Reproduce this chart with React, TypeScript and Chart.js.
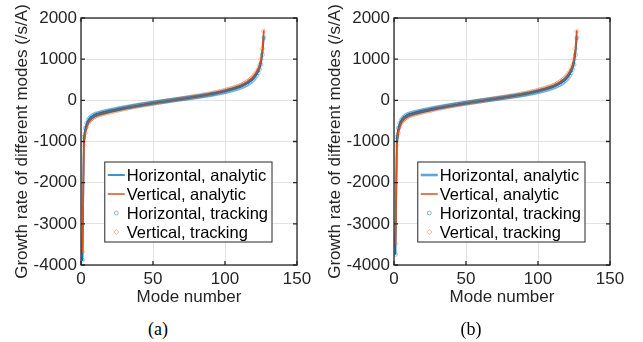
import React, { useEffect, useRef } from "react";
import { Chart, registerables } from "chart.js";

Chart.register(...registerables);

// ---- data ----
const xTicks = [0, 50, 100, 150];
const yTicks = [-4000, -3000, -2000, -1000, 0, 1000, 2000];
const seriesLabels = [
  "Horizontal, analytic",
  "Vertical, analytic",
  "Horizontal, tracking",
  "Vertical, tracking",
];
const xTitle = "Mode number";
const yTitle = "Growth rate of different modes (/s/A)";
const captions = ["(a)", "(b)"];

// growth rate per mode number 1..127
const horizontalAnalytic = [
  -3900, -900, -680, -560, -485, -440, -405, -378, -356, -340,
  -330, -320, -310, -300, -291, -283, -275, -267, -259, -251,
  -244, -237, -230, -223, -216, -209, -202, -195, -188, -181,
  -175, -169, -163, -157, -151, -145, -139, -133, -127, -121,
  -114, -109, -103, -98, -92, -87, -82, -76, -71, -66,
  -61, -56, -50, -45, -40, -35, -30, -25, -20, -15,
  -10, -5, 0, 5, 10, 15, 20, 25, 30, 35,
  40, 45, 50, 55, 60, 65, 71, 76, 82, 87,
  93, 98, 104, 109, 115, 121, 127, 133, 139, 145,
  152, 159, 166, 173, 180, 188, 196, 204, 212, 220,
  229, 238, 247, 256, 265, 275, 286, 297, 308, 320,
  334, 349, 365, 383, 401, 420, 443, 470, 500, 538,
  580, 630, 690, 780, 900, 1150, 1550,
];
const verticalAnalytic = [
  -3700, -1100, -800, -650, -560, -505, -465, -435, -410, -390,
  -375, -362, -350, -339, -329, -320, -311, -302, -293, -285,
  -277, -269, -261, -253, -245, -237, -229, -221, -213, -205,
  -197, -190, -183, -175, -168, -161, -154, -148, -141, -135,
  -129, -123, -116, -110, -104, -98, -92, -87, -81, -75,
  -69, -63, -58, -52, -46, -40, -35, -29, -24, -18,
  -12, -7, -1, 4, 10, 16, 21, 27, 32, 38,
  44, 49, 55, 60, 66, 72, 78, 84, 90, 96,
  102, 108, 114, 121, 127, 133, 140, 146, 153, 160,
  167, 174, 182, 189, 197, 205, 214, 222, 231, 240,
  250, 260, 270, 280, 290, 301, 313, 325, 337, 350,
  365, 381, 400, 420, 442, 465, 492, 520, 550, 592,
  640, 695, 760, 860, 1000, 1250, 1700,
];
const horizontalTracking = [
  -3880, -890, -672, -553, -479, -434, -400, -373, -352, -336,
  -326, -316, -306, -296, -287, -279, -271, -263, -255, -247,
  -240, -233, -226, -219, -212, -205, -198, -191, -184, -177,
  -171, -165, -159, -153, -147, -141, -135, -129, -123, -117,
  -111, -106, -100, -95, -89, -84, -79, -73, -68, -63,
  -58, -53, -47, -42, -37, -32, -27, -22, -17, -12,
  -7, -2, 3, 7, 12, 17, 22, 27, 31, 36,
  41, 46, 50, 55, 60, 64, 69, 74, 79, 84,
  89, 94, 99, 104, 109, 114, 120, 126, 131, 137,
  143, 150, 156, 163, 170, 177, 185, 192, 200, 208,
  216, 225, 234, 243, 252, 262, 272, 283, 294, 306,
  319, 333, 348, 365, 383, 402, 424, 450, 480, 516,
  556, 605, 665, 750, 870, 1110, 1520,
];
const verticalTracking = [
  -3680, -1090, -795, -646, -556, -502, -462, -432, -407, -387,
  -372, -359, -347, -336, -326, -317, -308, -299, -290, -282,
  -274, -266, -258, -250, -242, -234, -226, -218, -210, -202,
  -195, -188, -181, -173, -166, -159, -152, -146, -139, -133,
  -127, -121, -114, -108, -102, -96, -90, -85, -79, -73,
  -67, -61, -56, -50, -44, -38, -33, -27, -22, -16,
  -10, -5, 1, 6, 12, 18, 23, 29, 34, 40,
  46, 51, 57, 62, 68, 74, 80, 86, 92, 98,
  104, 110, 116, 123, 129, 135, 142, 148, 155, 162,
  169, 176, 184, 191, 199, 207, 216, 224, 233, 242,
  252, 262, 272, 282, 292, 303, 315, 327, 339, 352,
  367, 383, 402, 422, 444, 467, 494, 522, 552, 594,
  642, 697, 762, 862, 1003, 1255, 1680,
];

// panel (b): same modes, slightly different low end
const horizontalAnalyticB = [-3750, ...horizontalAnalytic.slice(1)];
const verticalAnalyticB = [-3500, ...verticalAnalytic.slice(1)];
const horizontalTrackingB = [-3740, ...horizontalTracking.slice(1)];
const verticalTrackingB = [-3480, ...verticalTracking.slice(1)];

const BLUE = "#0072BD";
const RED = "#D95319";
const BLUE_M = "rgba(0,114,189,0.45)";
const RED_M = "rgba(217,83,25,0.45)";
const AXIS = "#262626";
const FONT = "'Liberation Sans', Arial, Helvetica, sans-serif";

const toXY = (arr: number[]) => arr.map((y, i) => ({ x: i + 1, y }));

type PanelProps = {
  left: number;
  series: number[][];
  caption: string;
  captionX: number;
  legendBlue: string;
  legendBlueWidth: number;
};

function Panel({ left, series, caption, captionX, legendBlue, legendBlueWidth }: PanelProps) {
  const ref = useRef<HTMLCanvasElement | null>(null);

  useEffect(() => {
    if (!ref.current) return;
    const frameAndLegend = {
      id: "frameAndLegend",
      afterDraw(chart: any) {
        const { ctx, chartArea: a, scales } = chart;
        const xs = scales.x;
        const ys = scales.y;
        ctx.save();
        ctx.strokeStyle = AXIS;
        ctx.lineWidth = 1.3;
        ctx.strokeRect(a.left, a.top, a.right - a.left, a.bottom - a.top);
        ctx.beginPath();
        const tl = 4;
        xTicks.forEach((v) => {
          const px = xs.getPixelForValue(v);
          ctx.moveTo(px, a.bottom);
          ctx.lineTo(px, a.bottom - tl);
          ctx.moveTo(px, a.top);
          ctx.lineTo(px, a.top + tl);
        });
        yTicks.forEach((v) => {
          const py = ys.getPixelForValue(v);
          ctx.moveTo(a.left, py);
          ctx.lineTo(a.left + tl, py);
          ctx.moveTo(a.right, py);
          ctx.lineTo(a.right - tl, py);
        });
        ctx.stroke();

        // legend
        ctx.font = `16.5px ${FONT}`;
        const maxW = Math.max(...seriesLabels.map((s) => ctx.measureText(s).width));
        const w = 22 + maxW + 4;
        const h = 80;
        const right = a.right - 25;
        const bottom = a.bottom - 23;
        const lx = right - w;
        const ly = bottom - h;
        ctx.fillStyle = "#ffffff";
        ctx.fillRect(lx, ly, w, h);
        ctx.strokeStyle = "#262626";
        ctx.lineWidth = 1;
        ctx.strokeRect(lx, ly, w, h);
        const rows = [13, 32, 51, 70];
        ctx.textAlign = "left";
        ctx.textBaseline = "middle";
        seriesLabels.forEach((label, i) => {
          const cy = ly + rows[i];
          if (i === 0 || i === 1) {
            ctx.strokeStyle = i === 0 ? legendBlue : RED;
            ctx.lineWidth = i === 0 ? legendBlueWidth : 1.5;
            ctx.beginPath();
            ctx.moveTo(lx + 3, cy);
            ctx.lineTo(lx + 20, cy);
            ctx.stroke();
          } else if (i === 2) {
            ctx.strokeStyle = BLUE_M;
            ctx.lineWidth = 1;
            ctx.beginPath();
            ctx.arc(lx + 11.5, cy, 2, 0, Math.PI * 2);
            ctx.stroke();
          } else {
            ctx.strokeStyle = RED_M;
            ctx.lineWidth = 1;
            ctx.beginPath();
            ctx.moveTo(lx + 11.5, cy - 2.5);
            ctx.lineTo(lx + 14, cy);
            ctx.lineTo(lx + 11.5, cy + 2.5);
            ctx.lineTo(lx + 9, cy);
            ctx.closePath();
            ctx.stroke();
          }
          ctx.fillStyle = "#000000";
          ctx.fillText(label, lx + 22, cy + 1);
        });
        ctx.restore();
      },
    };

    const font = { family: FONT, size: 17 };
    const chart = new Chart(ref.current, {
      type: "line",
      data: {
        datasets: [
          {
            label: seriesLabels[2],
            data: toXY(series[2]),
            showLine: false,
            pointStyle: "circle",
            pointRadius: 2,
            pointBorderWidth: 0.8,
            pointBorderColor: BLUE_M,
            pointBackgroundColor: "rgba(0,0,0,0)",
            order: 0,
          },
          {
            label: seriesLabels[3],
            data: toXY(series[3]),
            showLine: false,
            pointStyle: "rectRot",
            pointRadius: 2.5,
            pointBorderWidth: 0.8,
            pointBorderColor: RED_M,
            pointBackgroundColor: "rgba(0,0,0,0)",
            order: 0,
          },
          {
            label: seriesLabels[1],
            data: toXY(series[1]),
            borderColor: RED,
            borderWidth: 1.8,
            pointRadius: 0,
            tension: 0,
            order: 1,
          },
          {
            label: seriesLabels[0],
            data: toXY(series[0]),
            borderColor: BLUE,
            borderWidth: 1.8,
            pointRadius: 0,
            tension: 0,
            order: 2,
          },
        ],
      },
      options: {
        responsive: false,
        animation: false,
        devicePixelRatio: 1,
        layout: { padding: { top: 18, right: 23, left: 0, bottom: 0 } },
        plugins: { legend: { display: false }, tooltip: { enabled: false } },
        scales: {
          x: {
            type: "linear",
            min: 0,
            max: 150,
            afterBuildTicks: (s: any) => {
              s.ticks = xTicks.map((v) => ({ value: v }));
            },
            afterFit: (s: any) => {
              s.height = 45;
            },
            grid: { color: "#e3e3e3", drawTicks: false, lineWidth: 1 },
            border: { display: false },
            ticks: {
              padding: 4,
              font,
              color: AXIS,
              maxRotation: 0,
              callback: (v: any) => String(v),
            },
            title: {
              display: true,
              text: xTitle,
              font,
              color: AXIS,
              padding: { top: 0, bottom: 2 },
            },
          },
          y: {
            type: "linear",
            min: -4000,
            max: 2000,
            afterBuildTicks: (s: any) => {
              s.ticks = yTicks.map((v) => ({ value: v }));
            },
            afterFit: (s: any) => {
              s.width = 81;
            },
            grid: { color: "#e3e3e3", drawTicks: false, lineWidth: 1 },
            border: { display: false },
            ticks: {
              padding: 4,
              font,
              color: AXIS,
              callback: (v: any) => String(v),
            },
            title: {
              display: true,
              text: yTitle,
              font,
              color: AXIS,
              padding: { top: 12, bottom: 0 },
            },
          },
        },
      },
      plugins: [frameAndLegend],
    } as any);
    return () => chart.destroy();
  }, []);

  return (
    <>
      <canvas
        ref={ref}
        width={320}
        height={310}
        style={{ position: "absolute", left, top: 0, width: 320, height: 310 }}
      />
      <div
        style={{
          position: "absolute",
          left: captionX - 30,
          width: 60,
          top: 318,
          textAlign: "center",
          fontFamily: "'Liberation Serif', 'Times New Roman', serif",
          fontSize: 18,
          lineHeight: "22px",
          color: "#000",
        }}
      >
        {caption}
      </div>
    </>
  );
}

export default function App() {
  return (
    <div
      style={{
        position: "fixed",
        left: 0,
        top: 0,
        width: 643,
        height: 342,
        background: "#ffffff",
        overflow: "hidden",
      }}
    >
      <Panel
        left={0}
        series={[horizontalAnalytic, verticalAnalytic, horizontalTracking, verticalTracking]}
        caption={captions[0]}
        captionX={158}
        legendBlue={BLUE}
        legendBlueWidth={1.5}
      />
      <Panel
        left={313}
        series={[horizontalAnalyticB, verticalAnalyticB, horizontalTrackingB, verticalTrackingB]}
        caption={captions[1]}
        captionX={471}
        legendBlue="#5AA7DE"
        legendBlueWidth={2.6}
      />
    </div>
  );
}
